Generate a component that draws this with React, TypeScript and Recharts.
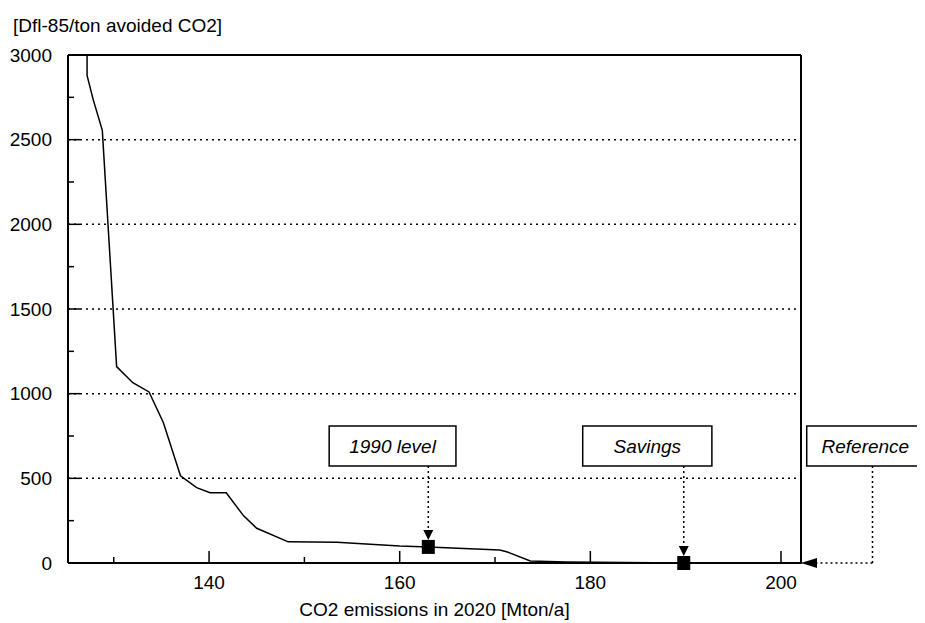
import React from 'react'
import {
  LineChart,
  Line,
  XAxis,
  YAxis,
  ReferenceLine,
  ReferenceArea,
  ReferenceDot,
  Label,
} from 'recharts'

// abatement cost curve
const emissions = [
  127.2, 127.2, 127.85, 128.8, 130.3, 132.0, 133.7, 135.2, 137.0, 138.7, 140.1, 141.8,
  143.6, 145.0, 148.3, 153.4, 160.0, 163.0, 170.5, 171.3, 173.7, 177.5, 189.8, 202.1,
]
const costs = [
  3000, 2880, 2735, 2555, 1160, 1065, 1010, 830, 515, 445, 415, 415,
  280, 205, 125, 122, 100, 95, 77, 65, 12, 6, 0, 0,
]

const xTicks = [130, 140, 150, 160, 170, 180, 190, 200]
const xLabelled = [140, 160, 180, 200]
const yTicks = [0, 250, 500, 750, 1000, 1250, 1500, 1750, 2000, 2250, 2500, 2750, 3000]
const yLabelled = [0, 500, 1000, 1500, 2000, 2500, 3000]
const gridLevels = [500, 1000, 1500, 2000, 2500]

// annotated points
const markerNames = ['1990 level', 'Savings']
const markerX = [163.0, 189.8]
const markerY = [95, 0]

const X_MIN = 125.2
const X_MAX = 202.1
const Y_MAX = 3000

const FONT = '"Liberation Sans", Arial, sans-serif'

const data = emissions.map((x, i) => ({ x, y: costs[i] }))

const XTick = (props: any) => {
  const { x, y, payload } = props
  const major = xLabelled.includes(payload.value)
  return (
    <g>
      <line x1={x} x2={x} y1={y} y2={y - (major ? 12 : 6)} stroke="#000" strokeWidth={1.5} />
      {major && (
        <text x={x} y={y + 26} textAnchor="middle" fontSize={19} fontFamily={FONT} fill="#000">
          {payload.value}
        </text>
      )}
    </g>
  )
}

const YTick = (props: any) => {
  const { x, y, payload } = props
  const major = yLabelled.includes(payload.value)
  return (
    <g>
      {payload.value > 0 && payload.value < Y_MAX && (
        <line x1={x} x2={x + (major ? 12 : 6)} y1={y} y2={y} stroke="#000" strokeWidth={1.5} />
      )}
      {major && (
        <text x={x - 16} y={y} dy="0.35em" textAnchor="end" fontSize={19} fontFamily={FONT} fill="#000">
          {payload.value}
        </text>
      )}
    </g>
  )
}

const Marker = (props: any) => {
  const { cx, cy } = props
  return (
    <g>
      <polygon points={`${cx - 5},${cy - 17} ${cx + 5},${cy - 17} ${cx},${cy - 7}`} fill="#000" />
      <rect x={cx - 6.5} y={cy - 7} width={13} height={14} fill="#000" />
    </g>
  )
}

const ArrowLeft = (props: any) => {
  const { cx, cy } = props
  return <polygon points={`${cx},${cy} ${cx + 16},${cy - 5} ${cx + 16},${cy + 5}`} fill="#000" />
}

const boxLabel = (text: string) => (
  <Label
    value={text}
    position="center"
    fontSize={19}
    fontStyle="italic"
    fontFamily={FONT}
    fill="#000"
  />
)

const BOX_LOW = 573
const BOX_HIGH = 809

export default function App() {
  return (
    <div style={{ position: 'relative', width: 917, height: 615 }}>
      <span
        style={{
          position: 'absolute',
          left: 5,
          top: 7,
          fontSize: 19,
          fontFamily: FONT,
          color: '#000',
          whiteSpace: 'nowrap',
        }}
      >
        [Dfl-85/ton avoided CO2]
      </span>
      <LineChart width={917} height={615} data={data} margin={{ top: 47, right: 124, bottom: 0, left: 0 }}>
        <XAxis
          type="number"
          dataKey="x"
          domain={[X_MIN, X_MAX]}
          allowDataOverflow
          ticks={xTicks}
          interval={0}
          tickLine={false}
          tickSize={0}
          tickMargin={0}
          tick={<XTick />}
          axisLine={{ stroke: '#000', strokeWidth: 2 }}
          height={60}
        >
          <Label
            value="CO2 emissions in 2020 [Mton/a]"
            position="insideBottom"
            offset={7}
            fontSize={19}
            fontFamily={FONT}
            fill="#000"
          />
        </XAxis>
        <YAxis
          type="number"
          domain={[0, Y_MAX]}
          allowDataOverflow
          ticks={yTicks}
          interval={0}
          tickLine={false}
          tickSize={0}
          tickMargin={0}
          tick={<YTick />}
          axisLine={{ stroke: '#000', strokeWidth: 2 }}
          width={60}
        />

        {gridLevels.map((v) => (
          <ReferenceLine key={v} y={v} stroke="#000" strokeWidth={1.5} strokeDasharray="2 4" />
        ))}
        <ReferenceLine y={Y_MAX} stroke="#000" strokeWidth={2} />
        <ReferenceLine x={X_MAX} stroke="#000" strokeWidth={2} />

        <Line
          type="linear"
          dataKey="y"
          stroke="#000"
          strokeWidth={1.5}
          dot={false}
          isAnimationActive={false}
        />

        {/* dotted leaders from the boxes */}
        <ReferenceLine
          segment={[{ x: markerX[0], y: BOX_LOW }, { x: markerX[0], y: markerY[0] }]}
          stroke="#000"
          strokeWidth={1.5}
          strokeDasharray="2 3"
          ifOverflow="visible"
        />
        <ReferenceLine
          segment={[{ x: markerX[1], y: BOX_LOW }, { x: markerX[1], y: markerY[1] }]}
          stroke="#000"
          strokeWidth={1.5}
          strokeDasharray="2 3"
          ifOverflow="visible"
        />
        <ReferenceLine
          segment={[{ x: 209.6, y: BOX_LOW }, { x: 209.6, y: 0 }]}
          stroke="#000"
          strokeWidth={1.5}
          strokeDasharray="2 3"
          ifOverflow="visible"
        />
        <ReferenceLine
          segment={[{ x: 209.6, y: 0 }, { x: X_MAX, y: 0 }]}
          stroke="#000"
          strokeWidth={1.5}
          strokeDasharray="2 3"
          ifOverflow="visible"
        />

        <ReferenceArea
          x1={152.6}
          x2={165.9}
          y1={BOX_LOW}
          y2={BOX_HIGH}
          fill="#fff"
          fillOpacity={1}
          stroke="#000"
          strokeWidth={1.5}
          ifOverflow="visible"
        >
          {boxLabel(markerNames[0])}
        </ReferenceArea>
        <ReferenceArea
          x1={179.2}
          x2={192.75}
          y1={BOX_LOW}
          y2={BOX_HIGH}
          fill="#fff"
          fillOpacity={1}
          stroke="#000"
          strokeWidth={1.5}
          ifOverflow="visible"
        >
          {boxLabel(markerNames[1])}
        </ReferenceArea>
        <ReferenceArea
          x1={202.7}
          x2={215.0}
          y1={BOX_LOW}
          y2={BOX_HIGH}
          fill="#fff"
          fillOpacity={1}
          stroke="#000"
          strokeWidth={1.5}
          ifOverflow="visible"
        >
          {boxLabel('Reference')}
        </ReferenceArea>

        {markerX.map((mx, i) => (
          <ReferenceDot key={markerNames[i]} x={mx} y={markerY[i]} r={6} shape={<Marker />} ifOverflow="visible" />
        ))}
        <ReferenceDot x={X_MAX} y={0} r={6} shape={<ArrowLeft />} ifOverflow="visible" />
      </LineChart>
    </div>
  )
}
